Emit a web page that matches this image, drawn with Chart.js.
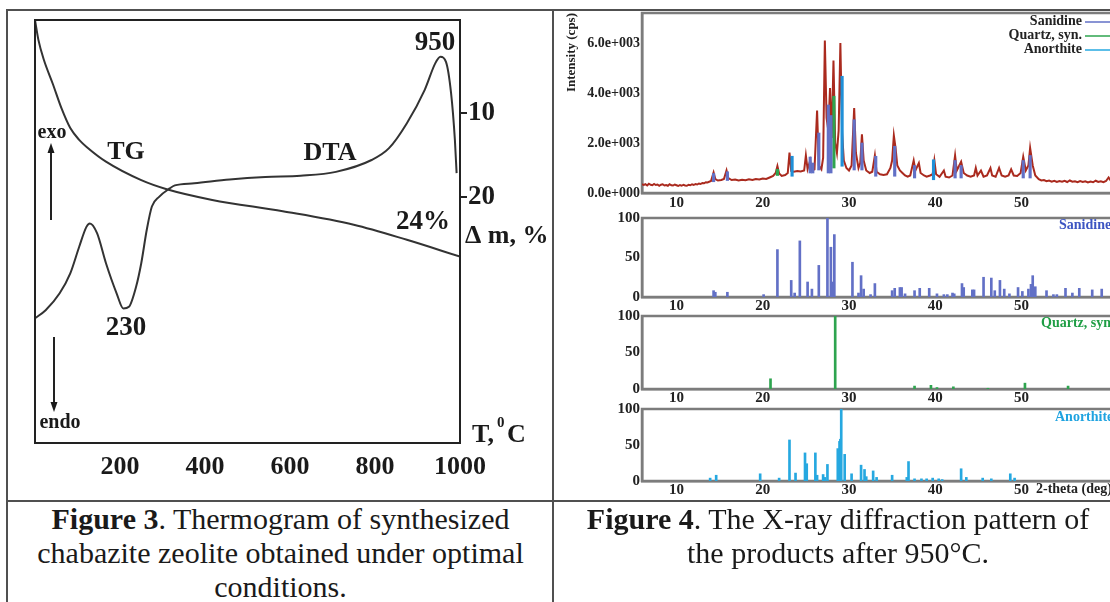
<!DOCTYPE html>
<html>
<head>
<meta charset="utf-8">
<script src="https://cdn.jsdelivr.net/npm/chart.js@4.4.1/dist/chart.umd.min.js"></script>
<style>
  html, body { margin: 0; padding: 0; background: #fff; }
  body { width: 1110px; height: 602px; overflow: hidden; position: relative;
         font-family: 'Liberation Serif', 'Times New Roman', serif; }
  canvas { position: absolute; }
  .rule { position: absolute; background: #505050; }
  .caption { position: absolute; font-size: 30px; line-height: 34px; text-align: center; color: #1a1a1a; }
</style>
</head>
<body>
<div class="rule" style="left:6px; top:9px; width:1110px; height:2px;"></div>
<div class="rule" style="left:6px; top:9px; width:2px; height:600px;"></div>
<div class="rule" style="left:552px; top:9px; width:2px; height:600px;"></div>
<div class="rule" style="left:6px; top:500px; width:1110px; height:2px;"></div>

<canvas id="thermo" width="553" height="500" style="left:0; top:0;"></canvas>
<canvas id="xrdMain" width="700" height="210" style="left:555px; top:0;"></canvas>
<canvas id="xrdSan" width="700" height="105" style="left:555px; top:207px;"></canvas>
<canvas id="xrdQz" width="700" height="100" style="left:555px; top:305px;"></canvas>
<canvas id="xrdAn" width="700" height="99" style="left:555px; top:398px;"></canvas>

<div class="caption" style="left:8px; top:502px; width:545px;"><b>Figure 3</b>. Thermogram of synthesized<br>chabazite zeolite obtained under optimal<br>conditions.</div>
<div class="caption" style="left:555px; top:502px; width:566px;"><b>Figure 4</b>. The X-ray diffraction pattern of<br>the products after 950°C.</div>

<script>
// ---- thermogram (Figure 3) ----
const tempTicks = [200, 400, 600, 800, 1000];
const massTicks = [10, 20];
const tgTemp = [0, 8, 21, 42, 62, 83, 104, 125, 167, 250, 308, 417, 583, 750, 875, 1000];
const tgLoss = [-1.07, 1.3, 3.7, 6.55, 9.4, 11.8, 13.2, 14.2, 15.8, 18.0, 19.05, 20.35, 21.7, 23.3, 25.1, 27.1];
const dtaTemp = [0, 25, 58, 83, 104, 121, 129, 146, 167, 192, 208, 221, 238, 250, 263, 275, 292, 317,
                 329, 375, 458, 542, 625, 708, 792, 833, 875, 917, 942, 954, 967, 979, 988, 992];
const dtaSignal = [29.5, 31.4, 35.4, 40.1, 46.4, 51.1, 51.9, 49.6, 42.5, 35.4, 31.8, 32.2, 37.0, 42.5, 50.4, 55.9, 58.2, 60.2,
                   60.9, 61.4, 62.3, 62.9, 63.2, 64.1, 66.9, 69.7, 75.6, 83.5, 89.8, 91.3, 90.1, 82.7, 71.6, 63.8];

// ---- XRD (Figure 4) ----
const thetaTicks = [10, 20, 30, 40, 50];
const countTicks = [0, 2000, 4000, 6000];
const relTicks = [0, 50, 100];

const obsTheta = [
  6.0, 6.2, 6.4, 6.6, 6.8, 7.0, 7.2, 7.4, 7.6, 7.8,
  8.0, 8.2, 8.4, 8.6, 8.8, 9.0, 9.2, 9.4, 9.6, 9.8,
  10.0, 10.2, 10.4, 10.6, 10.8, 11.0, 11.2, 11.4, 11.6, 11.8,
  12.0, 12.2, 12.4, 12.6, 12.8, 13.0, 13.2, 13.4, 13.6,
  14.0, 14.3, 14.5, 14.8, 15.2, 15.5, 15.8, 16.0, 16.4, 16.8,
  17.2, 17.6, 18.0, 18.4, 18.8, 19.2, 19.6, 20.0, 20.4, 20.8,
  21.2, 21.5, 21.7, 21.9, 22.2, 22.6, 22.9, 23.1, 23.3, 23.6,
  24.0, 24.4, 24.8, 25.0, 25.2, 25.5, 25.7, 26.0, 26.3, 26.5,
  26.8, 27.0, 27.2, 27.4, 27.6, 27.8, 28.0, 28.2, 28.4, 28.6,
  28.8, 29.0, 29.2, 29.4, 29.7, 30.0, 30.3, 30.6, 30.8, 31.1,
  31.3, 31.5, 31.7, 32.0, 32.4, 32.7, 33.0, 33.2, 33.6, 34.0,
  34.4, 34.8, 35.0, 35.2, 35.4, 35.6, 35.9, 36.2, 36.5, 36.8,
  37.1, 37.5, 37.7, 38.1, 38.3, 38.7, 39.0, 39.4, 39.7, 39.9,
  40.1, 40.5, 41.0, 41.2, 41.6, 42.0, 42.3, 42.5, 43.0, 43.3,
  43.7, 44.1, 44.5, 44.7, 44.9, 45.3, 45.6, 46.0, 46.4, 46.6,
  47.0, 47.4, 47.7, 48.1, 48.5, 48.8, 49.1, 49.5, 49.9, 50.2,
  50.5, 50.8, 51.0, 51.3, 51.6,
  52.0, 52.3, 52.6, 52.9, 53.2, 53.5, 53.8, 54.1, 54.4, 54.7,
  55.0, 55.3, 55.6, 55.9, 56.2, 56.5, 56.8, 57.1, 57.4, 57.7,
  58.0, 58.3, 58.6, 58.9, 59.2, 59.5, 59.8, 60.1, 60.4, 60.7,
  61.0, 61.3, 61.6, 61.9, 62.2, 62.5, 62.8, 63.1, 63.4, 63.7,
  64.0, 64.3, 64.6, 64.9, 65.2, 65.5, 65.8, 66.1, 66.4, 66.7,
  67.0, 67.3, 67.6, 67.9, 68.2, 68.5, 68.8, 69.1, 69.4, 69.7
];
const obsCounts = [
  360, 320, 350, 300, 370, 330, 310, 360, 320, 340,
  290, 330, 350, 300, 320, 290, 350, 310, 300, 340,
  310, 280, 320, 290, 330, 300, 290, 330, 310, 350,
  320, 360, 340, 380, 360, 400, 390, 430, 420,
  480, 820, 560, 500, 520, 560, 900, 600, 520, 540,
  500, 530, 510, 550, 520, 560, 540, 580, 560, 620,
  680, 800, 1080, 780, 680, 720, 800, 1620, 880, 850,
  880, 860, 900, 1500, 950, 1300, 900, 950, 3300, 1100,
  950, 1400, 6100, 3000, 2500, 4200, 2200, 5300, 2000, 1600,
  2500, 6000, 2400, 1300, 1000, 900, 1100, 3400, 1600, 1000,
  1200, 2350, 1300, 900, 800, 850, 1500, 850, 750, 720,
  750, 1000, 1300, 2300, 1800, 1100, 900, 800, 700, 650,
  700, 1300, 900, 1200, 800, 700, 650, 700, 750, 1300,
  750, 650, 900, 650, 620, 700, 1500, 900, 1250, 800,
  700, 650, 700, 1000, 700, 900, 650, 700, 1000, 700,
  650, 1000, 700, 650, 700, 950, 700, 680, 800, 1450,
  900, 1100, 1800, 1100, 700,
  550, 500, 520, 470, 500, 450, 490, 440, 480, 450,
  490, 440, 500, 450, 470, 430, 480, 440, 470, 420,
  460, 430, 490, 440, 470, 430, 480, 620, 470, 450,
  500, 460, 510, 470, 520, 480, 530, 480, 560, 500,
  470, 450, 480, 440, 470, 430, 480, 450, 470, 440,
  480, 440, 470, 450, 480, 440, 470, 450, 470, 440
];

// phase markers on the measured pattern
const sanMarkTheta = [14.3, 15.9, 25.5, 25.8, 26.5, 27.6, 27.9, 30.6, 31.5, 33.1, 35.3, 37.6, 42.3, 43.0, 50.2, 51.0];
const sanMarkLow   = [450, 500, 800, 800, 920, 800, 800, 920, 920, 670, 670, 600, 600, 600, 600, 600];
const sanMarkHigh  = [780, 850, 1440, 1200, 2400, 3520, 3100, 2930, 2000, 1470, 1870, 1100, 1300, 1100, 1300, 1500];
const qzMarkTheta = [21.7, 28.25];
const qzMarkLow   = [700, 1000];
const qzMarkHigh  = [950, 3870];
const anMarkTheta = [23.4, 29.2, 39.8];
const anMarkLow   = [670, 1070, 530];
const anMarkHigh  = [1470, 4670, 1330];

// reference cards, relative intensity
const sanTheta = [
  14.3, 14.5, 15.9, 20.1, 21.7, 23.3, 23.7, 24.3, 25.2, 25.7,
  26.5, 27.5, 27.9, 28.1, 28.3, 30.4, 31.1, 31.4, 31.7, 32.5,
  33.0, 35.0, 35.3, 35.9, 36.1, 36.5, 37.6, 38.2, 39.3, 40.2,
  41.0, 41.4, 42.0, 42.2, 43.1, 43.3, 44.3, 44.5, 45.6, 46.5,
  46.9, 47.5, 48.0, 48.6, 49.6, 50.1, 50.8, 51.1, 51.3, 51.6,
  52.9, 53.7, 54.1, 55.1, 55.9, 56.7, 58.2, 59.3
];
const sanInt = [
  8, 6, 6, 3, 60, 21, 5, 71, 19, 10,
  40, 100, 63, 19, 79, 44, 5, 27, 10, 3,
  17, 8, 11, 12, 12, 4, 8, 11, 11, 4,
  3, 3, 5, 4, 17, 12, 9, 9, 25, 24,
  8, 21, 10, 4, 12, 7, 10, 16, 27, 13,
  8, 3, 3, 11, 5, 11, 9, 10
];
const qzTheta = [20.9, 28.4, 37.6, 39.5, 40.2, 42.1, 46.1, 50.4, 55.4];
const qzInt = [14, 100, 4, 5, 2, 3, 1, 8, 4];
const anTheta = [
  13.9, 14.6, 19.7, 21.9, 23.1, 23.8, 24.9, 25.1, 26.1, 26.3,
  27.0, 27.2, 27.5, 28.7, 28.9, 29.0, 29.1, 29.5, 30.3, 31.4,
  31.8, 32.0, 32.8, 33.2, 35.0, 36.7, 36.9, 37.6, 38.4, 39.0,
  39.7, 40.4, 40.8, 43.0, 43.6, 45.5, 46.5, 48.7, 49.2
];
const anInt = [
  4, 8, 10, 4, 57, 11, 39, 24, 39, 8,
  9, 5, 23, 45, 55, 58, 100, 37, 10, 22,
  16, 6, 14, 5, 8, 5, 27, 3, 3, 3,
  4, 3, 2, 17, 5, 4, 3, 10, 4
];

const serif = "'Liberation Serif', 'Times New Roman', serif";
const ink = '#1a1a1a';
const axisGray = '#7c7c7c';
const sanColor = '#6270c6';
const qzColor = '#2ea44f';
const anColor = '#26a8e0';

Chart.defaults.font.family = serif;
Chart.defaults.color = ink;

function toPoints(xs, ys) {
  return xs.map((x, i) => ({ x: x, y: ys[i] }));
}
function toRanges(xs, lows, highs) {
  return xs.map((x, i) => ({ x: x, y: [lows[i], highs[i]] }));
}
const fixTicks = values => scale => { scale.ticks = values.map(v => ({ value: v })); };

function sci(v) {
  if (v === 0) return '0.0e+000';
  const e = Math.floor(Math.log10(v));
  return (v / Math.pow(10, e)).toFixed(1) + 'e+' + String(e).padStart(3, '0');
}

function text(ctx, str, x, y, size, align, color) {
  ctx.font = 'bold ' + size + 'px ' + serif;
  ctx.textAlign = align || 'center';
  ctx.textBaseline = 'middle';
  ctx.fillStyle = color || ink;
  ctx.fillText(str, x, y);
}

function arrow(ctx, x, y0, y1) {
  const dir = y1 > y0 ? 1 : -1;
  ctx.beginPath();
  ctx.moveTo(x, y0);
  ctx.lineTo(x, y1 - dir * 8);
  ctx.stroke();
  ctx.beginPath();
  ctx.moveTo(x, y1);
  ctx.lineTo(x - 3.5, y1 - dir * 10);
  ctx.lineTo(x + 3.5, y1 - dir * 10);
  ctx.closePath();
  ctx.fill();
}

// labels and box of the thermogram
const thermoNotes = {
  id: 'thermoNotes',
  afterDraw(chart) {
    const ctx = chart.ctx;
    const a = chart.chartArea;
    ctx.save();
    ctx.strokeStyle = '#222';
    ctx.fillStyle = '#222';
    ctx.lineWidth = 2;
    ctx.strokeRect(a.left, a.top, a.right - a.left, a.bottom - a.top);

    text(ctx, '950', 435, 43, 27);
    text(ctx, 'TG', 126, 152, 26);
    text(ctx, 'DTA', 330, 153, 26);
    text(ctx, '24%', 423, 222, 27);
    text(ctx, '230', 126, 328, 27);
    text(ctx, 'exo', 52, 133, 20);
    text(ctx, 'endo', 60, 423, 20);
    text(ctx, 'Δ m, %', 465, 236, 26, 'left');
    text(ctx, 'T,', 472, 435, 26, 'left');
    text(ctx, '0', 497, 423, 15, 'left');
    text(ctx, 'C', 507, 435, 26, 'left');

    ctx.lineWidth = 2;
    arrow(ctx, 51, 220, 143);
    arrow(ctx, 54, 337, 412);
    ctx.restore();
  }
};

new Chart(document.getElementById('thermo'), {
  type: 'line',
  data: {
    datasets: [
      { label: 'TG', data: toPoints(tgTemp, tgLoss), yAxisID: 'dm',
        borderColor: '#333', borderWidth: 2, pointRadius: 0, cubicInterpolationMode: 'monotone' },
      { label: 'DTA', data: toPoints(dtaTemp, dtaSignal), yAxisID: 'dta',
        borderColor: '#333', borderWidth: 2, pointRadius: 0, cubicInterpolationMode: 'monotone' }
    ]
  },
  options: {
    responsive: false,
    animation: false,
    events: [],
    layout: { padding: { left: 35, top: 20 } },
    plugins: { legend: { display: false }, tooltip: { enabled: false } },
    scales: {
      x: {
        type: 'linear', min: 0, max: 1000,
        grid: { display: false, drawTicks: false },
        border: { color: '#222', width: 2 },
        afterBuildTicks: fixTicks(tempTicks),
        ticks: { font: { size: 26, weight: 'bold' }, color: ink, padding: 9, callback: v => String(v) },
        afterFit: s => { s.height = 57; }
      },
      dm: {
        type: 'linear', position: 'right', min: -1.07, max: 49.29, reverse: true,
        grid: { drawOnChartArea: false, drawTicks: true, tickLength: 7, color: '#222', lineWidth: 2 },
        border: { color: '#222', width: 2 },
        afterBuildTicks: fixTicks(massTicks),
        ticks: { font: { size: 27, weight: 'bold' }, color: ink, padding: 1 },
        afterFit: s => { s.width = 93; }
      },
      dta: { type: 'linear', display: false, min: 0, max: 100 }
    }
  },
  plugins: [thermoNotes]
});

// ---- XRD panels ----
const xrdFrame = {
  id: 'xrdFrame',
  beforeDatasetsDraw(chart) {
    const ctx = chart.ctx;
    const a = chart.chartArea;
    ctx.save();
    ctx.strokeStyle = axisGray;
    ctx.lineWidth = 2.5;
    ctx.strokeRect(a.left, a.top, a.right - a.left, a.bottom - a.top);
    ctx.restore();
  }
};

function labelPlugin(id, draw) {
  return { id: id, afterDraw(chart) { const ctx = chart.ctx; ctx.save(); draw(ctx, chart); ctx.restore(); } };
}

function xrdChart(id, cfg) {
  return new Chart(document.getElementById(id), {
    type: 'bar',
    data: { datasets: cfg.datasets },
    options: {
      responsive: false,
      animation: false,
      events: [],
      layout: { padding: { top: cfg.padTop, right: 61 } },
      plugins: { legend: { display: false }, tooltip: { enabled: false } },
      scales: {
        x: {
          type: 'linear', min: 6, max: 70, offset: false,
          grid: { display: false, drawTicks: false },
          border: { color: axisGray, width: 2.5 },
          afterBuildTicks: fixTicks(thetaTicks),
          ticks: { font: { size: 15, weight: 'bold' }, color: '#222', padding: cfg.labelPad },
          afterFit: s => { s.height = cfg.xHeight; }
        },
        y: {
          type: 'linear', min: 0, max: cfg.yMax,
          grid: { display: false, drawTicks: false },
          border: { color: axisGray, width: 2.5 },
          afterBuildTicks: fixTicks(cfg.yTicks),
          ticks: { font: { size: cfg.ySize, weight: 'bold' }, color: '#222', padding: 2, callback: cfg.yFormat },
          title: cfg.yTitle || { display: false },
          afterFit: s => { s.width = 87; }
        }
      }
    },
    plugins: [xrdFrame, cfg.notes]
  });
}

function sticks(xs, ys, color, width) {
  return { data: toPoints(xs, ys), backgroundColor: color, barThickness: width, grouped: false };
}

xrdChart('xrdMain', {
  padTop: 13, xHeight: 17, labelPad: 1, yMax: 7200, yTicks: countTicks, ySize: 14,
  yFormat: v => sci(v),
  yTitle: { display: true, text: 'Intensity (cps)', align: 'end', color: '#222',
            font: { size: 13, weight: 'bold' }, padding: { top: 9, bottom: 0 } },
  datasets: [
    { type: 'line', data: toPoints(obsTheta, obsCounts), borderColor: '#aa2a1e', borderWidth: 2,
      pointRadius: 0, tension: 0, order: 2 },
    { data: toRanges(sanMarkTheta, sanMarkLow, sanMarkHigh), backgroundColor: sanColor, barThickness: 2.5, grouped: false, order: 1 },
    { data: toRanges(qzMarkTheta, qzMarkLow, qzMarkHigh), backgroundColor: qzColor, barThickness: 2.5, grouped: false, order: 1 },
    { data: toRanges(anMarkTheta, anMarkLow, anMarkHigh), backgroundColor: '#1f90d8', barThickness: 2.5, grouped: false, order: 1 }
  ],
  notes: labelPlugin('mainLegend', ctx => {
    const rows = [['Sanidine', sanColor, 21], ['Quartz, syn.', qzColor, 35], ['Anorthite', anColor, 49]];
    rows.forEach(r => {
      text(ctx, r[0], 527, r[2], 14, 'right', '#222');
      ctx.strokeStyle = r[1];
      ctx.lineWidth = 1.5;
      ctx.beginPath();
      ctx.moveTo(530, r[2] + 1);
      ctx.lineTo(700, r[2] + 1);
      ctx.stroke();
    });
  })
});

xrdChart('xrdSan', {
  padTop: 10, xHeight: 15, labelPad: 0, yMax: 100, yTicks: relTicks, ySize: 15,
  datasets: [sticks(sanTheta, sanInt, sanColor, 2)],
  notes: labelPlugin('sanLabel', ctx => text(ctx, 'Sanidine', 504, 18, 14, 'left', '#3d55c2'))
});

xrdChart('xrdQz', {
  padTop: 10, xHeight: 16, labelPad: 0, yMax: 100, yTicks: relTicks, ySize: 15,
  datasets: [sticks(qzTheta, qzInt, qzColor, 2)],
  notes: labelPlugin('qzLabel', ctx => text(ctx, 'Quartz, syn.', 486, 18, 14, 'left', '#1f9e45'))
});

xrdChart('xrdAn', {
  padTop: 10, xHeight: 16, labelPad: 0, yMax: 100, yTicks: relTicks, ySize: 15,
  datasets: [sticks(anTheta, anInt, anColor, 2)],
  notes: labelPlugin('anLabel', ctx => {
    text(ctx, 'Anorthite', 500, 19, 14, 'left', '#1fa3e0');
    text(ctx, '2-theta (deg)', 481, 91, 14, 'left', '#222');
  })
});
</script>
</body>
</html>
